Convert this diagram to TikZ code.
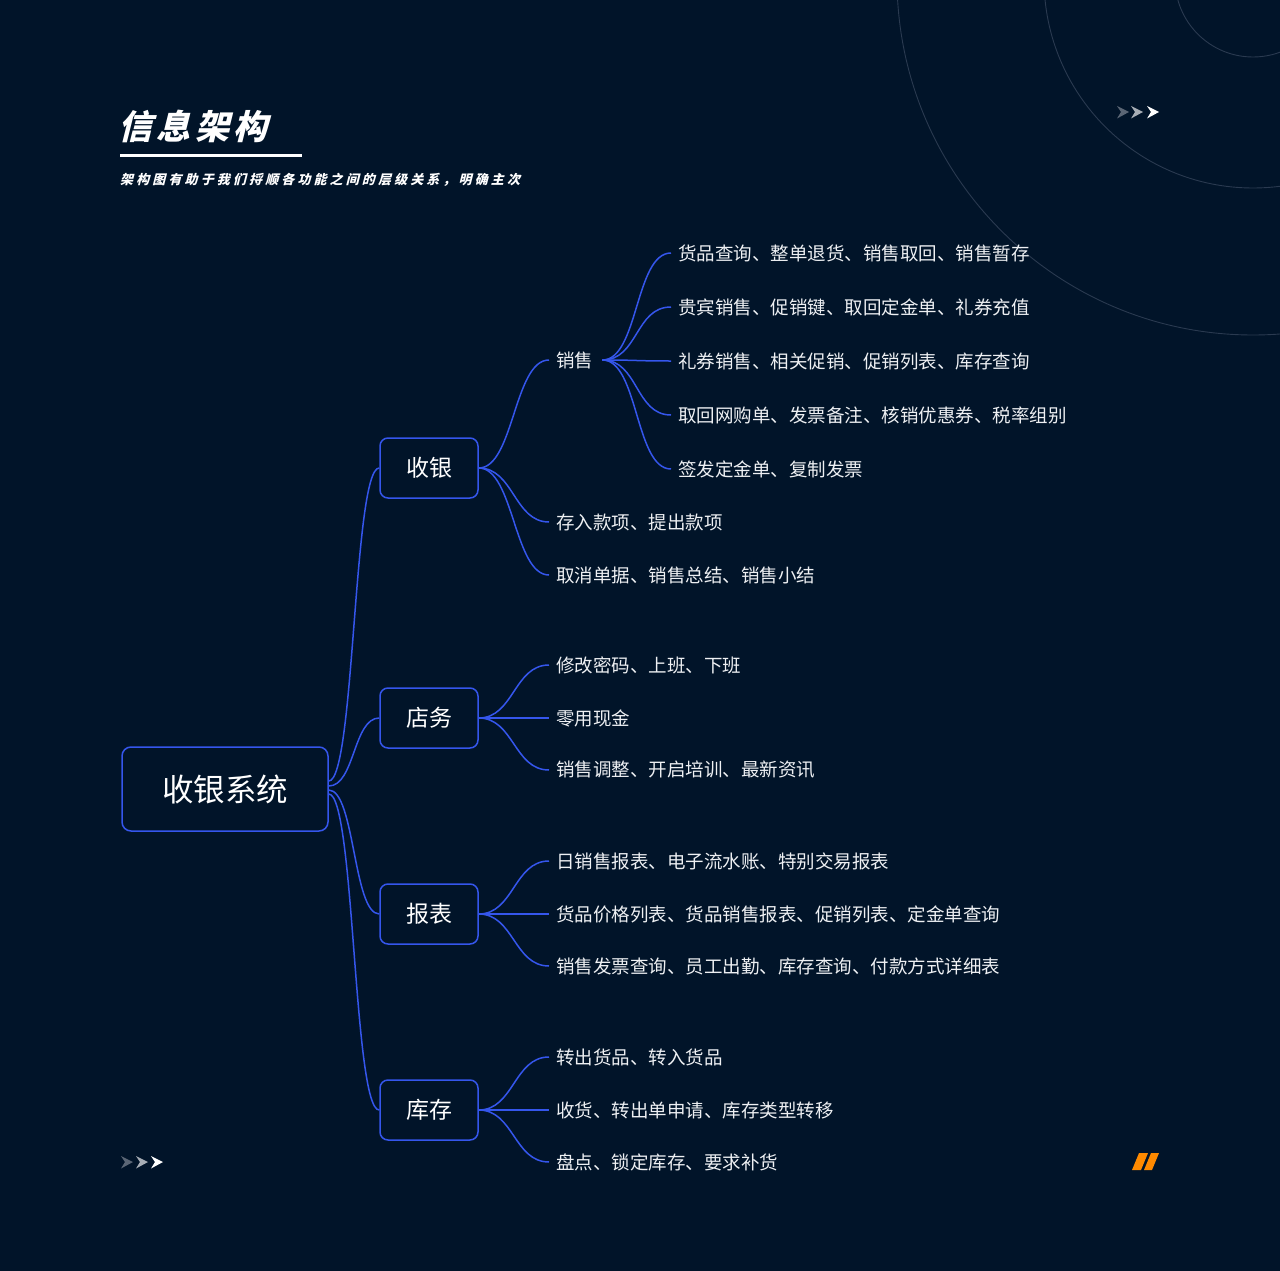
\documentclass[tikz,border=0pt]{standalone}
\usepackage{fontspec}
\setmainfont{Noto Sans CJK SC}
\newfontfamily\titlefont{Noto Sans CJK SC}[FakeSlant=0.25,LetterSpace=13]
\newfontfamily\subfont{Noto Sans CJK SC}[FakeSlant=0.25,LetterSpace=24]
\definecolor{bg}{HTML}{011429}
\definecolor{lineblue}{HTML}{3556EC}
\definecolor{txt}{HTML}{EEF0F3}
\definecolor{ring}{HTML}{2A3A50}
\definecolor{orng}{HTML}{FF8A00}
\definecolor{chevA}{HTML}{5B6675}
\definecolor{chevB}{HTML}{A7ADB5}
\begin{document}
\begin{tikzpicture}[x=1pt,y=-1pt,
  rootbox/.style={draw=lineblue, line width=1.5pt, rounded corners=9pt, minimum width=206pt, minimum height=84pt, fill=bg, text=white, inner sep=0pt, font=\fontsize{31.5}{36}\selectfont},
  catbox/.style={draw=lineblue, line width=1.5pt, rounded corners=8pt, minimum width=98pt, minimum height=60pt, fill=bg, text=white, inner sep=0pt, font=\fontsize{23}{27}\selectfont},
  leaf/.style={anchor=west, inner xsep=7pt, inner ysep=0pt, text=txt, font=\fontsize{18.5}{22}\selectfont},
  conn/.style={draw=lineblue, line width=1.5pt},
]
\useasboundingbox (0,0) rectangle (1280,1271);
\fill[bg] (0,0) rectangle (1280,1271);
% rings
\begin{scope}
\clip (0,0) rectangle (1280,1271);
\draw[ring, line width=0.9pt] (1253,-21) circle[radius=78pt];
\draw[ring, line width=0.9pt] (1253,-21) circle[radius=209pt];
\draw[ring, line width=0.9pt] (1253,-21) circle[radius=356pt];
\end{scope}
% title
\node[anchor=west, inner sep=0pt, text=white, font=\titlefont\bfseries\fontsize{34}{40}\selectfont] (title) at (118,126) {信息架构};
\draw[white, line width=3pt] (120,156) -- (302,156);
\node[anchor=west, inner sep=0pt, text=white, font=\subfont\bfseries\fontsize{13}{16}\selectfont] (subtitle) at (120,180) {架构图有助于我们捋顺各功能之间的层级关系，明确主次};
% chevrons top-right
\fill[chevA] (1117,106) -- (1129,112) -- (1117,118.5) -- (1121,112) -- cycle;
\fill[chevB] (1131,106) -- (1143,112) -- (1131,118.5) -- (1135,112) -- cycle;
\fill[white] (1147,106) -- (1159,112) -- (1147,118.5) -- (1151,112) -- cycle;
% chevrons bottom-left
\fill[chevA] (121,1156) -- (133,1162) -- (121,1168.5) -- (125,1162) -- cycle;
\fill[chevB] (136,1156) -- (148,1162) -- (136,1168.5) -- (140,1162) -- cycle;
\fill[white] (151,1156) -- (163,1162) -- (151,1168.5) -- (155,1162) -- cycle;
% orange mark
\fill[orng] (1132,1170) -- (1141,1170) -- (1148,1153) -- (1139,1153) -- cycle;
\fill[orng] (1144,1170) -- (1152,1170) -- (1159,1153) -- (1151,1153) -- cycle;
% nodes
\node[rootbox] (root) at (225,789) {收银系统};
\node[catbox] (c1) at (429,468) {收银};
\node[catbox] (c2) at (429,718) {店务};
\node[catbox] (c3) at (429,914) {报表};
\node[catbox] (c4) at (429,1110) {库存};
\node[leaf] (s1) at (549,360) {销售};
\node[leaf] (s2) at (549,522) {存入款项、提出款项};
\node[leaf] (s3) at (549,575) {取消单据、销售总结、销售小结};
\node[leaf] (d1) at (549,665) {修改密码、上班、下班};
\node[leaf] (d2) at (549,718) {零用现金};
\node[leaf] (d3) at (549,770) {销售调整、开启培训、最新资讯};
\node[leaf] (b1) at (549,861) {日销售报表、电子流水账、特别交易报表};
\node[leaf] (b2) at (549,914) {货品价格列表、货品销售报表、促销列表、定金单查询};
\node[leaf] (b3) at (549,966) {销售发票查询、员工出勤、库存查询、付款方式详细表};
\node[leaf] (k1) at (549,1057) {转出货品、转入货品};
\node[leaf] (k2) at (549,1110) {收货、转出单申请、库存类型转移};
\node[leaf] (k3) at (549,1162) {盘点、锁定库存、要求补货};
\node[leaf] (x1) at (671,253) {货品查询、整单退货、销售取回、销售暂存};
\node[leaf] (x2) at (671,307) {贵宾销售、促销键、取回定金单、礼券充值};
\node[leaf] (x3) at (671,361) {礼券销售、相关促销、促销列表、库存查询};
\node[leaf] (x4) at (671,415) {取回网购单、发票备注、核销优惠券、税率组别};
\node[leaf] (x5) at (671,469) {签发定金单、复制发票};
% connectors root -> categories
\draw[conn] ([yshift=8pt]root.east) .. controls +(26,0) and +(-26,0) .. (c1.west);
\draw[conn] ([yshift=3pt]root.east) .. controls +(26,0) and +(-26,0) .. (c2.west);
\draw[conn] ([yshift=-1pt]root.east) .. controls +(26,0) and +(-26,0) .. (c3.west);
\draw[conn] ([yshift=-5pt]root.east) .. controls +(26,0) and +(-26,0) .. (c4.west);
% category -> leaves
\foreach \c/\l in {c1/s1,c1/s2,c1/s3,c2/d1,c2/d2,c2/d3,c3/b1,c3/b2,c3/b3,c4/k1,c4/k2,c4/k3}
  \draw[conn] (\c.east) .. controls +(35,0) and +(-35,0) .. (\l.west);
\foreach \l in {x1,x2,x3,x4,x5}
  \draw[conn] ([xshift=2pt]s1.east) .. controls +(36,0) and +(-36,0) .. (\l.west);
\end{tikzpicture}
\end{document}
